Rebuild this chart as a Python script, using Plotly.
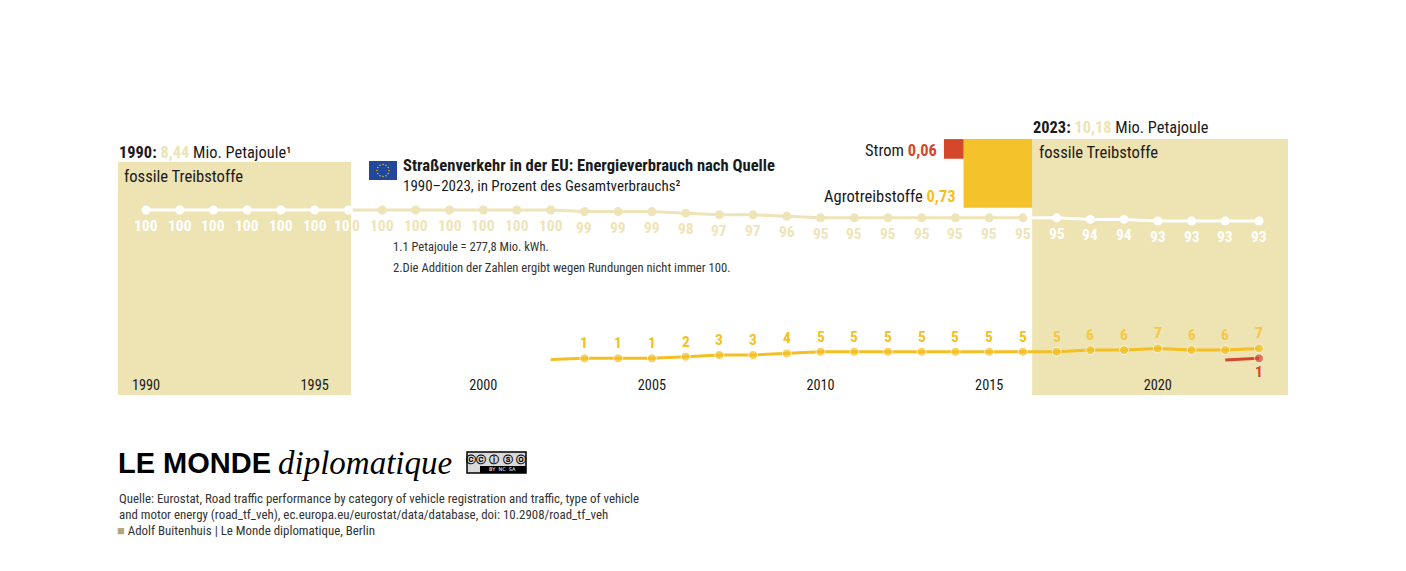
import math
import plotly.graph_objects as go

W, H = 1398, 563          # page adds an 8 px body margin
OFF = 8

# ── data ─────────────────────────────────────────────────────────────────────
years = list(range(1990, 2024))
fossil = [100, 100, 100, 100, 100, 100, 100, 100, 100, 100, 100, 100, 100,
          99, 99, 99, 98, 97, 97, 96,
          95, 95, 95, 95, 95, 95, 95, 95,
          94, 94, 93, 93, 93, 93]

agro_years = list(range(2002, 2024))
agro = [0.3, 1, 1, 1, 2, 3, 3, 4, 5, 5, 5, 5, 5, 5, 5, 5, 6, 6, 7, 6, 6, 7]

strom_years = [2022, 2023]
strom = [0, 1]

total_1990 = 8.44      # Mio. Petajoule
total_2023 = 10.18
agro_2023 = 0.73
strom_2023 = 0.06

tick_years = [1990, 1995, 2000, 2005, 2010, 2015, 2020]

# ── style ────────────────────────────────────────────────────────────────────
FONT = "Roboto Condensed, Liberation Sans Narrow, Roboto, sans-serif"
DARK = "#1a1a1a"
GREY = "#333333"
BAND = "#EDE3B3"
BEIGE = "#EEE4B8"
YELLOW = "#F4BF22"
YELLOW_IN = "#F5C843"
RED = "#D5472A"
WHITE = "#FFFFFF"

PX_YEAR = 33.727          # pixel per year
X0 = 146                  # pixel of 1990
SQ = 80.2                 # square side per sqrt(PJ)
BASE_Y = 395              # bottom of the squares


def px(year):
    return X0 + (year - 1990) * PX_YEAR


def yr(p):
    return 1990 + (p - X0) / PX_YEAR


def fx(p):
    return (p - OFF) / W


def fy(p):
    return 1 - (p - OFF) / H


side_l = SQ * math.sqrt(total_1990)
side_r = SQ * math.sqrt(total_2023)
side_a = SQ * math.sqrt(agro_2023)
side_s = SQ * math.sqrt(strom_2023)

left_x0, left_x1 = 118, 118 + side_l
right_x1 = 1288
right_x0 = right_x1 - side_r
top_r = BASE_Y - side_r


def in_band(year):
    p = px(year)
    return left_x0 <= p <= left_x1 or right_x0 <= p <= right_x1


fig = go.Figure()

# fossil line: beige outside the squares, white inside
fig.add_trace(go.Scatter(x=years, y=fossil, mode="lines",
                         line=dict(color=BEIGE, width=3), hoverinfo="skip"))
for lo, hi in [(1990, 1996), (2016, 2023)]:
    xs = [y for y in years if lo <= y <= hi]
    ys = [v for y, v in zip(years, fossil) if lo <= y <= hi]
    fig.add_trace(go.Scatter(x=xs, y=ys, mode="lines",
                             line=dict(color=WHITE, width=3), hoverinfo="skip"))
fig.add_trace(go.Scatter(
    x=years, y=fossil, mode="markers",
    marker=dict(size=9, color=[WHITE if in_band(y) else BEIGE for y in years]),
    hovertemplate="%{x}: %{y} %<extra>fossile Treibstoffe</extra>"))

# agro line
fig.add_trace(go.Scatter(
    x=agro_years, y=agro, mode="lines+markers", yaxis="y2",
    line=dict(color=YELLOW, width=3),
    marker=dict(size=[0] + [9] * (len(agro) - 1), color=YELLOW),
    hovertemplate="%{x}: %{y} %<extra>Agrotreibstoffe</extra>"))

# strom line
fig.add_trace(go.Scatter(
    x=strom_years, y=strom, mode="lines+markers", yaxis="y2",
    line=dict(color=RED, width=3),
    marker=dict(size=[0, 9], color=RED),
    hovertemplate="%{x}: %{y} %<extra>Strom</extra>"))

annotations = []


def label(x, y, text, color, yshift, yref="y", size=15.5):
    annotations.append(dict(x=x, y=y, xref="x", yref=yref, text=f"<b>{text}</b>",
                            showarrow=False, xanchor="center", yanchor="middle",
                            yshift=yshift, font=dict(family=FONT, size=size, color=color)))


edge = yr(left_x1)
for y, v in zip(years, fossil):
    p = px(y)
    if abs(p - left_x1) < 10:
        # label cut by the square edge
        annotations.append(dict(x=edge, y=v, xref="x", yref="y", text="<b>10</b>",
                                showarrow=False, xanchor="right", yanchor="middle",
                                yshift=-16, borderpad=0,
                                font=dict(family=FONT, size=15.5, color=WHITE)))
        annotations.append(dict(x=edge, y=v, xref="x", yref="y", text="<b>0</b>",
                                showarrow=False, xanchor="left", yanchor="middle",
                                yshift=-16, borderpad=0,
                                font=dict(family=FONT, size=15.5, color=BEIGE)))
        continue
    label(y, v, v, WHITE if in_band(y) else BEIGE, -16)

for y, v in zip(agro_years, agro):
    if y < 2003:
        continue
    label(y, v, f"{v:g}", YELLOW_IN if in_band(y) else YELLOW, 15, yref="y2")

label(strom_years[-1], strom[-1], f"{strom[-1]:g}", RED, -14, yref="y2")


def ann(text, x, y, size=14, color=DARK, xanchor="left", yanchor="middle", family=FONT):
    annotations.append(dict(text=text, x=fx(x), y=fy(y), xref="paper", yref="paper",
                            showarrow=False, xanchor=xanchor, yanchor=yanchor,
                            font=dict(family=family, size=size, color=color)))


ann(f"<b>1990:</b> <b><span style='color:{BAND}'>{total_1990:.2f}</span></b> Mio. Petajoule¹".replace(".", ",", 1),
    117, 153, size=16.4)
ann(f"<b>2023:</b> <b><span style='color:{BAND}'>{total_2023:.2f}</span></b> Mio. Petajoule".replace(".", ",", 1),
    1031, 128, size=16.4)
ann("fossile Treibstoffe", 122, 176, size=16.6)
ann("fossile Treibstoffe", 1037, 153, size=16.6)
ann(f"Strom <b><span style='color:{RED}'>{strom_2023:.2f}</span></b>".replace(".", ","),
    939, 150, size=16.5, xanchor="right")
ann(f"Agrotreibstoffe <b><span style='color:{YELLOW}'>{agro_2023:.2f}</span></b>".replace(".", ","),
    958, 196, size=16.5, xanchor="right")

ann("<b>Straßenverkehr in der EU: Energieverbrauch nach Quelle</b>", 401, 166, size=16.6)
ann("1990–2023, in Prozent des Gesamtverbrauchs²", 401, 186, size=15)
ann("1.1 Petajoule = 277,8 Mio. kWh.", 391, 247, size=12.5, color=GREY)
ann("2.Die Addition der Zahlen ergibt wegen Rundungen nicht immer 100.", 391, 267, size=12.6, color=GREY)

ann("<b>LE MONDE</b>", 116, 463, size=29, color="#000000", family="Liberation Sans, Arial, sans-serif")
ann("<i>diplomatique</i>", 276, 463, size=33, color="#000000", family="Liberation Serif, DejaVu Serif, serif")
ann("<b>ⓒⓒ ⓘ ⓢ ⓞ</b>", 496, 459, size=10, color="#000000", xanchor="center",
    family="DejaVu Sans, sans-serif")
ann("BY  NC  SA", 502, 469, size=5, color=WHITE, xanchor="center", family="DejaVu Sans, sans-serif")

ann("Quelle: Eurostat, Road traffic performance by category of vehicle registration and traffic, type of vehicle",
    117, 498, size=12.9, color=GREY)
ann("and motor energy (road_tf_veh), ec.europa.eu/eurostat/data/database, doi: 10.2908/road_tf_veh",
    117, 514, size=12.9, color=GREY)
ann("<span style='color:#B8A47A'>■</span> Adolf Buitenhuis | Le Monde diplomatique, Berlin",
    115, 530, size=12.9, color=GREY)

# squares sized by energy use
shapes = [
    dict(type="rect", xref="paper", yref="paper", layer="below", line_width=0, fillcolor=BAND,
         x0=fx(left_x0), x1=fx(left_x1), y0=fy(BASE_Y), y1=fy(BASE_Y - side_l)),
    dict(type="rect", xref="paper", yref="paper", layer="below", line_width=0, fillcolor=BAND,
         x0=fx(right_x0), x1=fx(right_x1), y0=fy(BASE_Y), y1=fy(top_r)),
    dict(type="rect", xref="paper", yref="paper", layer="below", line_width=0, fillcolor="#F4C22B",
         x0=fx(right_x0 - side_a), x1=fx(right_x0), y0=fy(top_r + side_a), y1=fy(top_r)),
    dict(type="rect", xref="paper", yref="paper", layer="below", line_width=0, fillcolor=RED,
         x0=fx(right_x0 - side_a - side_s), x1=fx(right_x0 - side_a),
         y0=fy(top_r + side_s), y1=fy(top_r)),
    # EU flag
    dict(type="rect", xref="paper", yref="paper", line_width=0, fillcolor="#23479A",
         x0=fx(369), x1=fx(397), y0=fy(180), y1=fy(161)),
    # CC badge
    dict(type="rect", xref="paper", yref="paper", line=dict(color="#000", width=1.5),
         fillcolor="#D9D9D9", x0=fx(467), x1=fx(526), y0=fy(473), y1=fy(452)),
    dict(type="rect", xref="paper", yref="paper", line_width=0, fillcolor="#000",
         x0=fx(480), x1=fx(526), y0=fy(473), y1=fy(466)),
]
for i in range(12):
    a = 2 * math.pi * i / 12
    cx, cy = 383 + 6 * math.cos(a), 170.5 + 6 * math.sin(a)
    shapes.append(dict(type="circle", xref="paper", yref="paper", line_width=0, fillcolor="#F5D000",
                       x0=fx(cx - 0.7), x1=fx(cx + 0.7), y0=fy(cy + 0.7), y1=fy(cy - 0.7)))

# fossil axis: 100 % at y=210 px, 1.57 px per point; agro/strom axis: 0 % at y=360 px
F_PX = 1.57
A_PX = 1.65
fig.update_layout(
    width=W, height=H,
    margin=dict(l=0, r=0, t=0, b=0),
    paper_bgcolor="white", plot_bgcolor="rgba(0,0,0,0)",
    showlegend=False,
    xaxis=dict(range=[yr(OFF), yr(W + OFF)], domain=[0, 1], anchor="free", position=fy(375),
               tickvals=tick_years, ticks="", showgrid=False, zeroline=False, showline=False,
               tickfont=dict(family=FONT, size=14.3, color=DARK)),
    yaxis=dict(range=[100 - (H + OFF - 210) / F_PX, 100 + (210 - OFF) / F_PX],
               visible=False, fixedrange=True),
    yaxis2=dict(range=[-(H + OFF - 360) / A_PX, (360 - OFF) / A_PX], overlaying="y", visible=False),
    shapes=shapes,
    annotations=annotations,
)

fig.write_html("out.html")
